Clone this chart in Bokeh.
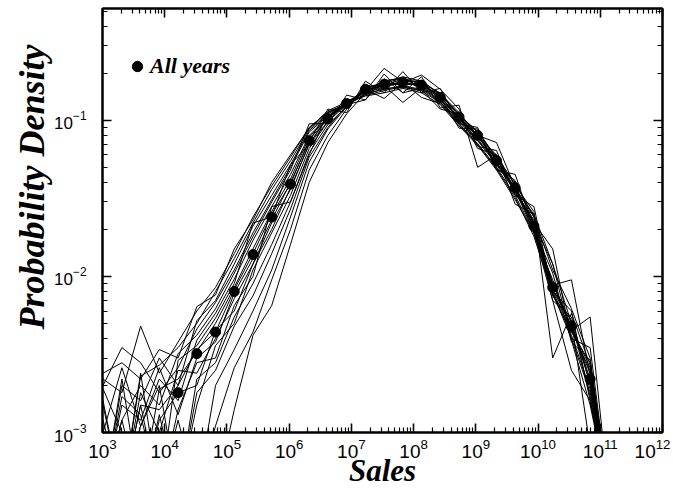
import math
from bokeh.plotting import figure
from bokeh.models import Range1d, FixedTicker, LogAxis, Title, Legend, LegendItem, CustomJSTickFormatter
from bokeh.embed import file_html
from bokeh.resources import INLINE

Z = 4e-4  # empty bin (below the plotted range)
nan = float("nan")

# bin centres (sales), factor-2 bins
sales = [1.02e3, 2.05e3, 4.10e3, 8.19e3, 1.64e4, 3.28e4, 6.55e4, 1.31e5, 2.62e5, 5.24e5,
         1.05e6, 2.10e6, 4.19e6, 8.39e6, 1.68e7, 3.36e7, 6.71e7, 1.34e8, 2.68e8, 5.37e8,
         1.07e9, 2.15e9, 4.29e9, 8.59e9, 1.72e10, 3.44e10, 6.87e10, 1.37e11]

y1974 = [Z, Z, Z, Z, Z, Z, Z, 1.4e-3, 4.2e-3, 6.5e-3, 0.016, 0.040, 0.072, 0.110, 0.150, 0.180, 0.185, 0.172, 0.150, 0.108, 0.085, 0.057, 0.040, 0.024, 0.011, 0.0062, 0.0030, Z]
y1975 = [Z, Z, Z, Z, Z, Z, 1.1e-3, 2.6e-3, 4.4e-3, 9.5e-3, 0.020, 0.048, 0.080, 0.118, 0.160, 0.176, 0.190, 0.178, 0.148, 0.112, 0.079, 0.060, 0.038, 0.026, 0.0030, 0.0058, 0.0027, Z]
y1976 = [Z, Z, Z, Z, 1.2e-3, Z, 2.0e-3, 3.4e-3, 6.0e-3, 0.011, 0.024, 0.054, 0.088, 0.122, 0.155, 0.215, 0.176, 0.180, 0.145, 0.110, 0.083, 0.052, 0.041, 0.022, 0.012, 0.0040, 0.0035, Z]
y1977 = [Z, Z, 1.5e-3, Z, Z, 1.8e-3, 2.5e-3, 4.8e-3, 7.5e-3, 0.014, 0.027, 0.058, 0.090, 0.125, 0.160, 0.174, 0.185, 0.172, 0.142, 0.100, 0.085, 0.058, 0.035, 0.023, 0.0075, 0.0052, 8e-4, Z]
y1978 = [Z, 1.2e-3, Z, 1.3e-3, Z, 2.2e-3, 2.8e-3, 5.5e-3, 9.0e-3, 0.016, 0.030, 0.062, 0.094, 0.122, 0.165, 0.168, 0.183, 0.165, 0.148, 0.106, 0.078, 0.056, 0.039, 0.019, 0.0095, 0.0045, 0.0025, Z]
y1979 = [1.6e-3, Z, 1.1e-3, 2.0e-3, Z, 1.5e-3, 3.6e-3, 5.0e-3, 0.011, 0.019, 0.033, 0.066, 0.098, 0.126, 0.135, 0.198, 0.150, 0.190, 0.120, 0.125, 0.050, 0.060, 0.036, 0.025, 0.0080, 0.0060, 0.0016, Z]
y1980 = [Z, Z, 2.4e-3, Z, 1.4e-3, 2.8e-3, 3.0e-3, 6.5e-3, 0.010, 0.028, 0.030, 0.060, 0.112, 0.124, 0.162, 0.165, 0.178, 0.176, 0.136, 0.098, 0.082, 0.050, 0.038, 0.020, 0.0105, 0.0038, 0.0029, Z]
y1981 = [Z, 2.2e-3, Z, 1.2e-3, 1.8e-3, 2.0e-3, 4.5e-3, 6.0e-3, 0.012, 0.020, 0.037, 0.070, 0.098, 0.130, 0.152, 0.172, 0.168, 0.174, 0.141, 0.104, 0.074, 0.057, 0.034, 0.022, 0.0070, 0.0055, 0.0020, Z]
y1982 = [1.2e-3, Z, 1.8e-3, 1.0e-3, 2.5e-3, 2.4e-3, 4.0e-3, 7.2e-3, 0.012, 0.022, 0.036, 0.071, 0.104, 0.127, 0.158, 0.166, 0.176, 0.165, 0.144, 0.102, 0.080, 0.072, 0.037, 0.021, 0.0090, 0.0046, 0.0024, Z]
y1983 = [Z, 1.5e-3, 1.2e-3, 2.6e-3, 1.3e-3, 3.0e-3, 3.8e-3, 7.8e-3, 0.013, 0.023, 0.040, 0.073, 0.118, 0.112, 0.178, 0.150, 0.205, 0.150, 0.160, 0.095, 0.090, 0.048, 0.045, 0.020, 0.0082, 0.0049, 0.0021, Z]
y1984 = [Z, Z, 1.5e-3, 1.4e-3, 2.0e-3, 3.4e-3, 4.4e-3, 8.2e-3, 0.014, 0.025, 0.039, 0.075, 0.103, 0.126, 0.160, 0.173, 0.172, 0.169, 0.142, 0.104, 0.081, 0.053, 0.036, 0.022, 0.0088, 0.0095, 0.0023, Z]
y1985 = [1.9e-3, 1.0e-3, Z, 1.9e-3, 2.2e-3, 3.3e-3, 5.0e-3, 8.5e-3, 0.015, 0.026, 0.042, 0.078, 0.104, 0.128, 0.154, 0.168, 0.174, 0.195, 0.158, 0.118, 0.068, 0.064, 0.033, 0.028, 0.0078, 0.0042, 0.0019, Z]
y1986 = [Z, 1.7e-3, 1.3e-3, Z, 2.9e-3, 3.6e-3, 5.4e-3, 9.0e-3, 0.022, 0.024, 0.052, 0.070, 0.106, 0.130, 0.150, 0.163, 0.176, 0.163, 0.140, 0.089, 0.088, 0.054, 0.036, 0.019, 0.0090, 0.0047, 0.0026, Z]
y1987 = [1.0e-3, 2.6e-3, 1.1e-3, 2.2e-3, 1.6e-3, 3.9e-3, 5.8e-3, 9.6e-3, 0.017, 0.028, 0.045, 0.080, 0.105, 0.132, 0.152, 0.167, 0.130, 0.162, 0.136, 0.103, 0.078, 0.057, 0.035, 0.021, 0.0083, 0.0052, 0.0017, Z]
y1988 = [Z, 1.2e-3, 2.0e-3, 1.5e-3, 3.2e-3, 4.2e-3, 6.2e-3, 0.0105, 0.018, 0.030, 0.048, 0.095, 0.095, 0.145, 0.135, 0.185, 0.150, 0.160, 0.134, 0.099, 0.076, 0.053, 0.037, 0.024, 0.0076, 0.0044, 0.0028, Z]
y1989 = [2.0e-3, 3.5e-3, 2.8e-3, 1.8e-3, 2.6e-3, 4.6e-3, 6.8e-3, 0.011, 0.019, 0.031, 0.050, 0.084, 0.107, 0.126, 0.148, 0.158, 0.166, 0.158, 0.131, 0.097, 0.074, 0.052, 0.035, 0.022, 0.015, 0.0039, 0.0015, Z]
y1990 = [Z, 2.0e-3, 1.6e-3, 3.0e-3, 2.0e-3, 5.2e-3, 7.0e-3, 0.012, 0.021, 0.033, 0.052, 0.086, 0.110, 0.125, 0.146, 0.160, 0.162, 0.157, 0.118, 0.110, 0.066, 0.060, 0.029, 0.025, 0.012, 0.0050, 0.0022, Z]
y1991 = [1.5e-3, Z, 2.3e-3, 2.7e-3, 3.5e-3, 5.0e-3, 8.0e-3, 0.013, 0.022, 0.036, 0.055, 0.088, 0.112, 0.127, 0.144, 0.155, 0.164, 0.154, 0.130, 0.095, 0.071, 0.050, 0.033, 0.019, 0.0080, 0.0045, 0.0055, Z]
y1992 = [2.2e-3, 1.8e-3, 4.8e-3, 2.4e-3, 3.8e-3, 6.0e-3, 8.5e-3, 0.014, 0.024, 0.038, 0.058, 0.090, 0.113, 0.128, 0.158, 0.138, 0.175, 0.140, 0.128, 0.094, 0.070, 0.049, 0.032, 0.018, 0.0078, 0.0040, 0.0018, Z]
y1993 = [2.4e-3, 2.8e-3, 2.2e-3, 3.4e-3, 3.0e-3, 6.4e-3, 7.6e-3, 0.015, 0.023, 0.040, 0.060, 0.089, 0.115, 0.131, 0.143, 0.150, 0.160, 0.150, 0.126, 0.092, 0.069, 0.048, 0.031, 0.019, 0.0070, 0.0025, 0.0016, Z]

all_years = [nan, nan, nan, nan, 1.8e-3, 3.2e-3, 4.4e-3, 8.0e-3, 0.0138, 0.024, 0.039, 0.074, 0.102, 0.128,
             0.158, 0.170, 0.175, 0.168, 0.140, 0.105, 0.080, 0.055, 0.037, 0.021, 0.0085, 0.0048, 0.0022, nan]

years = [y1974, y1975, y1976, y1977, y1978, y1979, y1980, y1981, y1982, y1983,
         y1984, y1985, y1986, y1987, y1988, y1989, y1990, y1991, y1992, y1993]

x_ticks = [1e3, 1e4, 1e5, 1e6, 1e7, 1e8, 1e9, 1e10, 1e11, 1e12]
y_ticks = [1e-3, 1e-2, 1e-1]

p = figure(width=670, height=490, x_axis_type="log", y_axis_type="log",
           x_range=Range1d(1e3, 1e12), y_range=Range1d(1e-3, 0.52),
           output_backend="svg", toolbar_location=None,
           min_border_left=102, min_border_right=8, min_border_top=8, min_border_bottom=58)
p.xgrid.visible = False
p.ygrid.visible = False
p.outline_line_color = "black"
p.outline_line_width = 2
p.background_fill_color = "white"
p.border_fill_color = "white"

for ys in years:
    p.line(sales, ys, line_color="black", line_width=1.0)
dots = p.scatter(sales, all_years, size=10, marker="circle", color="black")

x_minor = [m * t for t in x_ticks[:-1] for m in range(2, 10)]
y_minor = [m * t for t in y_ticks for m in range(2, 10)]


def style(ax, ticks, minor, fs, show, standoff):
    ax.ticker = FixedTicker(ticks=ticks, minor_ticks=minor)
    ax.axis_line_width = 2
    ax.axis_line_color = "black"
    ax.major_tick_in = 9
    ax.major_tick_out = 0
    ax.minor_tick_in = 5
    ax.minor_tick_out = 0
    ax.major_tick_line_width = 1.6
    ax.minor_tick_line_width = 1.2
    ax.major_tick_line_color = "black"
    ax.minor_tick_line_color = "black"
    ax.major_label_text_font = "Liberation Sans"
    ax.major_label_text_color = "black"
    ax.major_label_text_font_size = fs
    ax.major_label_standoff = standoff
    if not show:
        ax.formatter = CustomJSTickFormatter(code="return ''")


xa = p.xaxis[0]
ya = p.yaxis[0]
style(xa, x_ticks, x_minor, "19px", True, 6)
style(ya, y_ticks, y_minor, "17px", True, 16)

xa.axis_label = "Sales"
xa.axis_label_text_font = "Liberation Serif"
xa.axis_label_text_font_style = "bold italic"
xa.axis_label_text_font_size = "31px"
xa.axis_label_text_color = "black"
xa.axis_label_standoff = -8

ytitle = Title(text="Probability Density", align="left", offset=103, standoff=0,
               text_font="Liberation Serif", text_font_style="bold italic",
               text_font_size="36px", text_color="black")
p.add_layout(ytitle, "left")

top_ax = LogAxis()
style(top_ax, x_ticks, x_minor, "10px", False, 0)
p.add_layout(top_ax, "above")
right_ax = LogAxis()
style(right_ax, y_ticks, y_minor, "10px", False, 0)
p.add_layout(right_ax, "right")

legend = Legend(items=[LegendItem(label="All years", renderers=[dots])],
                location=(22, 353), border_line_alpha=0, background_fill_alpha=0,
                label_text_font="Liberation Serif", label_text_font_style="bold italic",
                label_text_font_size="22px", label_text_color="black",
                glyph_width=26, glyph_height=26,
                label_standoff=0, padding=0, margin=0)
p.add_layout(legend)

open("out.html", "w").write(file_html(p, INLINE))
